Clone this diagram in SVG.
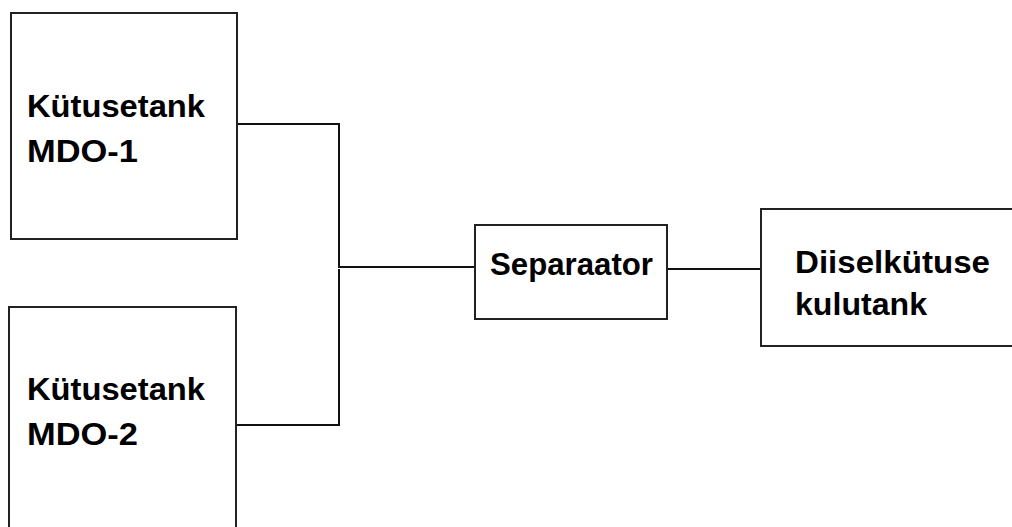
<svg xmlns="http://www.w3.org/2000/svg" width="1012" height="527" viewBox="0 0 1012 527">
<style>
.box{fill:#fff;stroke:#222;stroke-width:2}
.con{fill:none;stroke:#111;stroke-width:2}
.t{font-family:"Liberation Sans",Arial,sans-serif;font-weight:bold;font-size:32px;fill:#000}
</style>
<rect width="1012" height="527" fill="#fff"/>
<g id="connectors">
<polyline class="con" points="237,124 339,124 339,267 475,267"/>
<polyline class="con" points="236,425 339,425 339,269"/>
<line class="con" x1="667" y1="269" x2="761" y2="269"/>
</g>
<g id="tank1">
<rect class="box" x="11" y="13" width="226" height="226"/>
<text class="t" x="27" y="117" textLength="178" lengthAdjust="spacingAndGlyphs">Kütusetank</text>
<text class="t" x="27" y="162" textLength="111" lengthAdjust="spacingAndGlyphs">MDO-1</text>
</g>
<g id="tank2">
<rect class="box" x="9" y="307" width="227" height="240"/>
<text class="t" x="27" y="400" textLength="178" lengthAdjust="spacingAndGlyphs">Kütusetank</text>
<text class="t" x="27" y="445" textLength="111" lengthAdjust="spacingAndGlyphs">MDO-2</text>
</g>
<g id="separator">
<rect class="box" x="475" y="225" width="192" height="94"/>
<text class="t" x="490" y="275" textLength="163" lengthAdjust="spacingAndGlyphs">Separaator</text>
</g>
<g id="kulutank">
<rect class="box" x="761" y="209" width="300" height="137"/>
<text class="t" x="795" y="273" textLength="195" lengthAdjust="spacingAndGlyphs">Diiselkütuse</text>
<text class="t" x="795" y="315" textLength="132" lengthAdjust="spacingAndGlyphs">kulutank</text>
</g>
</svg>
